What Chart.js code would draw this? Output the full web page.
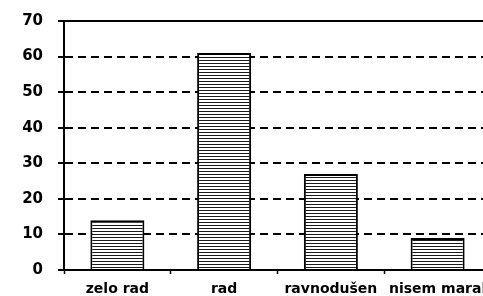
<!DOCTYPE html>
<html><head><meta charset="utf-8">
<script src="https://cdn.jsdelivr.net/npm/chart.js@4"></script>
<style>html,body{margin:0;padding:0;background:#fff;overflow:hidden;width:483px;height:296px}
#wrap{width:491px;height:296px;position:relative}</style>
</head><body>
<div id="wrap"><canvas id="c" width="491" height="296"></canvas></div>
<script>
const categories = ['zelo rad', 'rad', 'ravnodušen', 'nisem maral'];
const values = [14, 61, 27, 9];
const yTicks = [0, 10, 20, 30, 40, 50, 60, 70];

const pc = document.createElement('canvas');
pc.width = 4; pc.height = 3;
const px = pc.getContext('2d');
px.fillStyle = '#fff'; px.fillRect(0, 0, 4, 3);
px.fillStyle = '#1a1a1a'; px.fillRect(0, 0, 4, 1);
const stripes = document.getElementById('c').getContext('2d').createPattern(pc, 'repeat');

new Chart(document.getElementById('c'), {
  type: 'bar',
  data: { labels: categories, datasets: [{ data: values, backgroundColor: stripes, borderColor: '#000', borderWidth: 2, borderSkipped: 'bottom', barPercentage: 0.506, categoryPercentage: 1 }] },
  options: {
    responsive: false, animation: false, devicePixelRatio: 1,
    layout: { padding: { top: 21, right: 0, left: 0, bottom: 0 } },
    plugins: { legend: { display: false }, tooltip: { enabled: false } },
    scales: {
      y: {
        min: 0, max: 70,
        afterFit: s => { s.width = 64; s.paddingTop = 0; s.paddingBottom = 0; },
        afterBuildTicks: s => { s.ticks = yTicks.map(v => ({ value: v })); },
        ticks: { color: '#000', padding: 15, font: { family: 'DejaVu Sans', size: 15, weight: 'bold' } },
        grid: { color: '#000', lineWidth: 2, tickLength: 6, tickColor: '#000', tickWidth: 2 },
        border: { color: '#000', width: 2, dash: ctx => (ctx.tick && ctx.tick.value > 0 && ctx.tick.value < 70) ? [8, 5] : [] }
      },
      x: {
        afterFit: s => { s.height = 26; s.paddingLeft = 0; s.paddingRight = 0; },
        ticks: { color: '#000', padding: 7, autoSkip: false, maxRotation: 0, font: { family: 'DejaVu Sans', size: 14, weight: 'bold' } },
        grid: { drawOnChartArea: false, tickLength: 4, tickColor: '#000', tickWidth: 1.5, offset: true },
        border: { color: '#000', width: 1.5 }
      }
    }
  }
});
</script>
</body></html>
